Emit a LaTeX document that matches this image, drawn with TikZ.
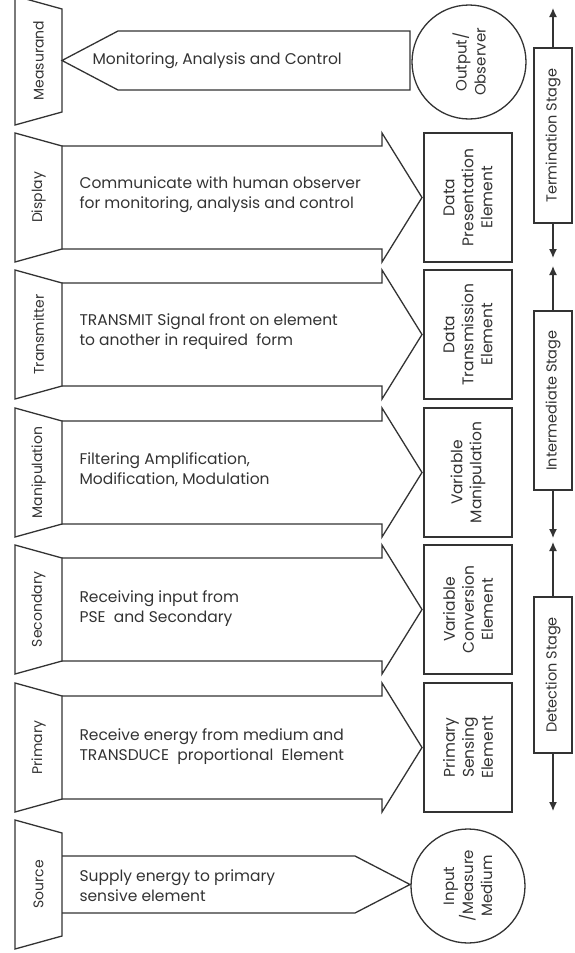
\documentclass[tikz,border=0pt]{standalone}
\usepackage{fontspec}
\setmainfont{Poppins}
\usetikzlibrary{positioning,arrows.meta}
\definecolor{inkgray}{gray}{0.2}
% left tab of a row: top y, label, name
\newcommand{\sidetab}[3]{%
  \draw[line] (15,#1) -- (62,{#1+13}) -- (62,{#1+116}) -- (15,{#1+129}) -- cycle;
  \node[tab] (#3) at (38.5,{#1+64.5}) {#2};}
% broad arrow of a row pointing to its element box
\newcommand{\blockarrow}[1]{%
  \draw[line] (62,{#1+13}) -- (382,{#1+13}) -- (382,#1) -- (422,{#1+64.5})
    -- (382,{#1+129}) -- (382,{#1+116}) -- (62,{#1+116});}

\begin{document}
\begin{tikzpicture}[
		x=1pt, y=-1pt,
		line/.style={draw=inkgray, line width=1.3pt, line join=miter},
		tab/.style={rotate=90, text=inkgray, font=\fontsize{14}{16}\selectfont},
		body/.style={anchor=west, align=left, text=inkgray, font=\fontsize{15.5}{20}\selectfont},
		element/.style={draw=inkgray, line width=1.3pt, rotate=90, minimum width=129pt, minimum height=88pt, align=center, text=inkgray, font=\fontsize{15.5}{19}\selectfont},
		endpoint/.style={circle, draw=inkgray, line width=1.3pt, minimum size=114pt, inner sep=0pt, rotate=90, align=center, text=inkgray, font=\fontsize{15}{19}\selectfont},
		stagebox/.style={draw=inkgray, line width=1.3pt, rotate=90, minimum height=38pt, text=inkgray, font=\fontsize{14.5}{16}\selectfont},
		stagearrow/.style={draw=inkgray, line width=1.3pt, -{Latex[length=9pt,width=8pt]}}
	]
	\useasboundingbox (0,0) rectangle (574,953);

	% measurand row
	\sidetab{-4}{Measurand}{measurand}
	\draw[line] (410,31) -- (118,31) -- (62,60.5) -- (118,90) -- (410,90) -- cycle;
	\node[body] (monitor) at (89,60.5) {Monitoring, Analysis and Control};
	\node[endpoint] (output) at (469,62) {Output/\\Observer};

	% display row
	\sidetab{133}{Display}{display}
	\blockarrow{133}
	\node[body] (displaytxt) at (76,195) {Communicate with human observer\\for monitoring, analysis and control};
	\node[element] (dpe) at (468,197.5) {Data\\Presentation\\Element};

	% transmitter row
	\sidetab{270}{Transmitter}{transmitter}
	\blockarrow{270}
	\node[body] (transtxt) at (76,332) {TRANSMIT Signal front on element\\to another in required\ \ form};
	\node[element] (dte) at (468,334.5) {Data\\Transmission\\Element};

	% manipulation row
	\sidetab{408}{Manipulation}{manip}
	\blockarrow{408}
	\node[body] (maniptxt) at (76,470) {Filtering Amplification,\\Modification, Modulation};
	\node[element] (vme) at (468,472.5) {Variable\\Manipulation};

	% secondary row
	\sidetab{545}{Secondary}{secondary}
	\blockarrow{545}
	\node[body] (secondtxt) at (76,609) {Receiving input from\\PSE\ \ and Secondary};
	\node[element] (vce) at (468,609.5) {Variable\\Conversion\\Element};

	% primary row
	\sidetab{683}{Primary}{primary}
	\blockarrow{683}
	\node[body] (primtxt) at (76,747) {Receive energy from medium and\\TRANSDUCE\ \ proportional\ \ Element};
	\node[element] (pse) at (468,747.5) {Primary\\Sensing\\Element};

	% source row
	\sidetab{820}{Source}{source}
	\draw[line] (62,856) -- (355,856) -- (410,884.5) -- (355,913) -- (62,913);
	\node[body] (sourcetxt) at (76,886) {Supply energy to primary\\sensive element};
	\node[endpoint] (input) at (468,886) {Input\\/Measure\\Medium};

	% stages
	\node[stagebox, minimum width=175pt] (term) at (553,135.5) {Termination Stage};
	\node[stagebox, minimum width=179pt] (inter) at (553,400.5) {Intermediate Stage};
	\node[stagebox, minimum width=156pt] (detect) at (553,675) {Detection Stage};
	\coordinate (termtop) at (553,8);
	\coordinate (termbot) at (553,258);
	\coordinate (intertop) at (553,266);
	\coordinate (interbot) at (553,538);
	\coordinate (detecttop) at (553,542);
	\coordinate (detectbot) at (553,811);
	\draw[stagearrow] (term.east) -- (termtop);
	\draw[stagearrow] (term.west) -- (termbot);
	\draw[stagearrow] (inter.east) -- (intertop);
	\draw[stagearrow] (inter.west) -- (interbot);
	\draw[stagearrow] (detect.east) -- (detecttop);
	\draw[stagearrow] (detect.west) -- (detectbot);
\end{tikzpicture}
\end{document}
